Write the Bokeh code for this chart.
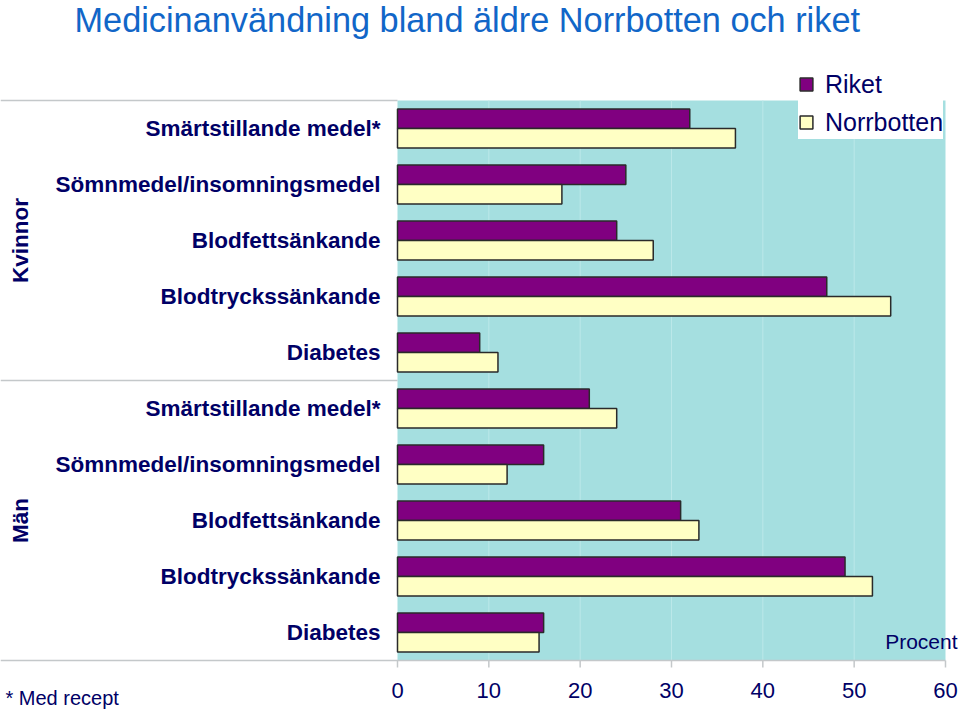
from bokeh.plotting import figure
from bokeh.models import Range1d, ColumnDataSource
from bokeh.transform import dodge
from bokeh.core.properties import value
from bokeh.embed import file_html
from bokeh.resources import INLINE

# ---- data ----
title_text = "Medicinanvändning bland äldre Norrbotten och riket"
groups = ["Kvinnor", "Män"]
medicines = ["Smärtstillande medel*", "Sömnmedel/insomningsmedel",
             "Blodfettsänkande", "Blodtryckssänkande", "Diabetes"]
riket_kvinnor = [32, 25, 24, 47, 9]
norrbotten_kvinnor = [37, 18, 28, 54, 11]
riket_man = [21, 16, 31, 49, 16]
norrbotten_man = [24, 12, 33, 52, 15.5]
x_ticks = [0, 10, 20, 30, 40, 50, 60]
x_tick_labels = ["0", "10", "20", "30", "40", "50", "60"]
series_names = ["Riket", "Norrbotten"]
axis_unit = "Procent"
footnote = "* Med recept"

# ---- styling / layout ----
FONT = "Liberation Sans"
NAVY = "#000066"
TEAL = "#A5DFE0"
SEP = "#C4C8CA"

labels = medicines + medicines
riket = riket_kvinnor + riket_man
norrbotten = norrbotten_kvinnor + norrbotten_man
n = len(labels)
ypos = [n - 0.5 - i for i in range(n)]

src = ColumnDataSource(dict(y=ypos, label=labels, riket=riket, norrbotten=norrbotten))

W, H = 960, 714
PXU = 9.1333  # px per x unit
PYU = 56.0    # px per category
X0PX, Y0PX = 397, 660
x_left, x_right = -X0PX / PXU, (W - X0PX) / PXU
y_bottom, y_top = -(H - Y0PX) / PYU, Y0PX / PYU


def xd(px):
    return (px - X0PX) / PXU


def yd(py):
    return (Y0PX - py) / PYU


p = figure(width=W, height=H, title=None, toolbar_location=None, output_backend="svg",
           x_range=Range1d(x_left, x_right), y_range=Range1d(y_bottom, y_top),
           x_axis_location=None, y_axis_location=None, min_border=0)
p.outline_line_color = None
p.xgrid.visible = False
p.ygrid.visible = False
p.background_fill_color = "white"
p.border_fill_color = "white"

# plot-area background
p.quad(left=[0], right=[x_ticks[-1]], bottom=[0], top=[n], fill_color=TEAL, line_color=None)
# vertical grid lines
inner = x_ticks[1:-1]
p.segment(x0=inner, x1=inner, y0=[0] * len(inner), y1=[n] * len(inner),
          line_color="#BCE8E9", line_width=1)
# separators on the label side + x axis line
p.segment(x0=[x_left] * 2, x1=[0] * 2, y0=[n, n / 2], y1=[n, n / 2],
          line_color=SEP, line_width=1.5)
p.segment(x0=[x_left], x1=[x_ticks[-1]], y0=[0], y1=[0], line_color=SEP, line_width=1.5)
# x ticks and tick labels
p.segment(x0=x_ticks, x1=x_ticks, y0=[0] * len(x_ticks), y1=[-7 / PYU] * len(x_ticks),
          line_color=SEP, line_width=1.5)
p.text(x=x_ticks, y=[yd(690)] * len(x_ticks), text=x_tick_labels, text_align="center",
       text_baseline="middle", text_font=value(FONT), text_font_size="22px", text_color=NAVY)

bh = 0.35
p.hbar(y=dodge("y", 0.175), left=0, right="riket", height=bh, source=src,
       fill_color="#800080", line_color="#2a2a2a", line_width=1.5, legend_label=series_names[0])
p.hbar(y=dodge("y", -0.175), left=0, right="norrbotten", height=bh, source=src,
       fill_color="#FFFFC4", line_color="#2a2a2a", line_width=1.5, legend_label=series_names[1])

# category labels
p.text(x=xd(380), y="y", text="label", source=src, text_align="right", text_baseline="middle",
       text_font=value(FONT), text_font_style="bold", text_font_size="22.5px", text_color=NAVY)
# group labels
p.text(x=[xd(20)] * 2, y=[n * 0.75, n * 0.25], text=groups, angle=1.5708,
       text_align="center", text_baseline="middle", text_font=value(FONT),
       text_font_style="bold", text_font_size="22.5px", text_color=NAVY)

# title, unit and footnote
p.text(x=[xd(74)], y=[yd(19)], text=[title_text], text_align="left", text_baseline="middle",
       text_font=value(FONT), text_font_size="34.3px", text_color="#1166C8")
p.text(x=[xd(957)], y=[yd(641)], text=[axis_unit], text_align="right", text_baseline="middle",
       text_font=value(FONT), text_font_size="21px", text_color=NAVY)
p.text(x=[xd(5)], y=[yd(697)], text=[footnote], text_align="left", text_baseline="middle",
       text_font=value(FONT), text_font_size="20px", text_color=NAVY)

# legend
lg = p.legend[0]
lg.location = (798, H - 139)
lg.label_text_font = FONT
lg.label_text_font_size = "25px"
lg.label_text_color = NAVY
lg.glyph_width = 16
lg.glyph_height = 16
lg.label_standoff = 11
lg.padding = 5
lg.spacing = 4
lg.label_height = 34
lg.margin = 0
lg.border_line_color = None
lg.background_fill_color = "white"
lg.background_fill_alpha = 1.0

open("out.html", "w").write(file_html(p, INLINE))
